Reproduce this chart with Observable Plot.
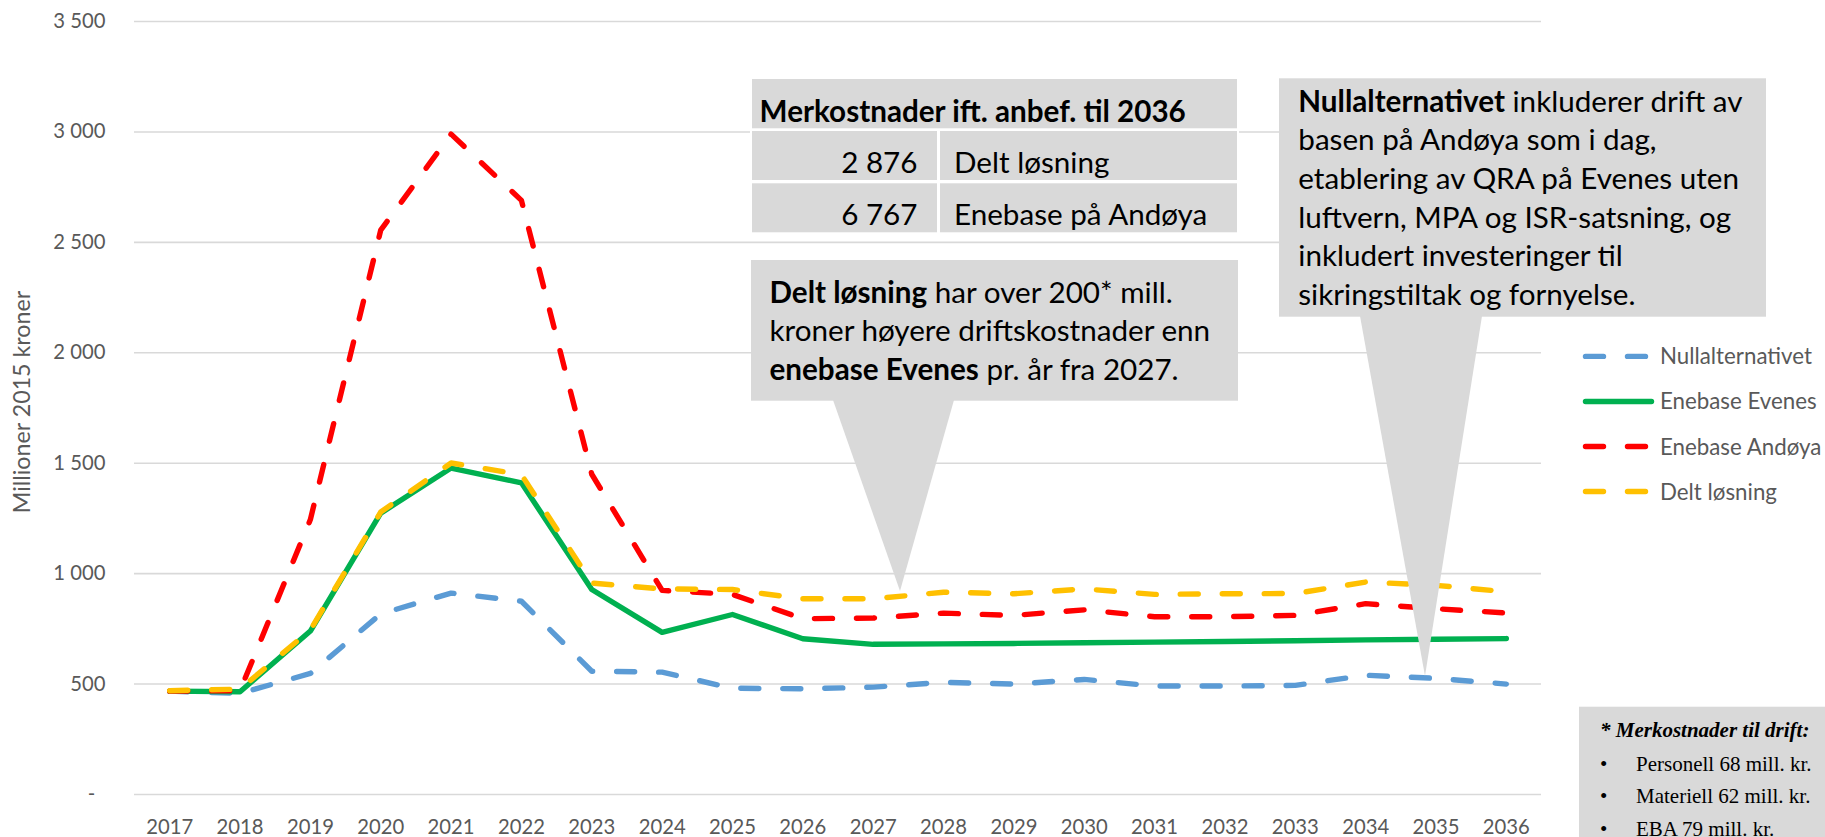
<!DOCTYPE html>
<html>
<head>
<meta charset="utf-8">
<script src="https://cdn.jsdelivr.net/npm/d3@7"></script>
<script src="https://cdn.jsdelivr.net/npm/@observablehq/plot@0.6"></script>
<style>
  html, body { margin: 0; padding: 0; background: #fff; }
  #chart svg { display: block; }
</style>
</head>
<body>
<div id="chart"></div>
<script>
// ---------------- DATA ----------------
const years = [2017, 2018, 2019, 2020, 2021, 2022, 2023, 2024, 2025, 2026,
               2027, 2028, 2029, 2030, 2031, 2032, 2033, 2034, 2035, 2036];
const seriesNames = ["Nullalternativet", "Enebase Evenes", "Enebase Andøya", "Delt løsning"];
const nullalternativet = [468, 458, 548, 818, 912, 875, 558, 554, 481, 479, 486, 508, 500, 521, 491, 491, 494, 540, 526, 500];
const enebaseEvenes    = [468, 465, 740, 1274, 1478, 1411, 928, 734, 815, 705, 680, 682, 684, 687, 690, 693, 696, 700, 703, 706];
const enebaseAndoya    = [468, 470, 1245, 2555, 2990, 2690, 1450, 924, 906, 796, 799, 821, 811, 836, 805, 805, 811, 864, 841, 822];
const deltLosning      = [470, 477, 745, 1279, 1501, 1448, 957, 931, 928, 886, 886, 916, 909, 931, 906, 909, 910, 962, 947, 918];
const yTicks = [0, 500, 1000, 1500, 2000, 2500, 3000, 3500];
const yTitle = "Millioner 2015 kroner";

const tableTitle = "Merkostnader ift. anbef. til 2036";
const tableNumbers = ["2 876", "6 767"];
const tableLabels = ["Delt løsning", "Enebase på Andøya"];

const callout1Lines = [
  [["Delt løsning", true], [" har over 200* mill.", false]],
  [["kroner høyere driftskostnader enn", false]],
  [["enebase Evenes", true], [" pr. år fra 2027.", false]]
];
const callout2Lines = [
  [["Nullalternativet", true], [" inkluderer drift av", false]],
  [["basen på Andøya som i dag,", false]],
  [["etablering av QRA på Evenes uten", false]],
  [["luftvern, MPA og ISR-satsning, og", false]],
  [["inkludert investeringer til", false]],
  [["sikringstiltak og fornyelse.", false]]
];
const footnoteTitle = "* Merkostnader til drift:";
const footnoteItems = ["Personell 68 mill. kr.", "Materiell 62 mill. kr.", "EBA 79 mill. kr."];

// ---------------- STYLE ----------------
const seriesColors = ["#5B9BD5", "#00B050", "#FF0000", "#FFC000"];
const seriesDash = ["18 24", null, "18 24", "18 24"];
const LINE_W = 5.4;
const FONT = "Lato, 'Open Sans', sans-serif";
const GREY_TEXT = "#595959";
const BOX = "#d9d9d9";

// font-size calibration so that text widths match the reference
const ctx = document.createElement("canvas").getContext("2d");
function fit(text, weight, target, fallback) {
  try {
    ctx.font = `${weight} 100px Lato`;
    const w = ctx.measureText(text).width;
    if (!w) return fallback;
    return 100 * target / w;
  } catch (e) { return fallback; }
}
const fsTick = fit("2017", "normal", 47, 22);
const fsLegend = fit("Nullalternativet", "normal", 152, 22);
const fsTitle = fit(yTitle, "normal", 223, 22);
const fsCallout = fit("kroner høyere driftskostnader enn", "normal", 442, 28);
const fsTable = fit(tableTitle, "bold", 427, 28);

const series = [nullalternativet, enebaseEvenes, enebaseAndoya, deltLosning];
const rows = seriesNames.flatMap((name, i) =>
  years.map((yr, j) => ({series: name, year: yr, value: series[i][j]})));

const W = 1825, H = 837;
const ML = 134, MR = 284, MT = 21, MB = 43;

const fmtY = d => d === 0 ? "-\u2002" : d3.format(",")(d).replace(/,/g, " ");

const lineMarks = seriesNames.map((name, i) =>
  Plot.line(rows.filter(r => r.series === name), {
    x: "year", y: "value",
    stroke: seriesColors[i], strokeWidth: LINE_W,
    strokeDasharray: seriesDash[i] || undefined,
    strokeLinecap: "round", strokeLinejoin: "round"
  }));

const chart = Plot.plot({
  width: W, height: H,
  marginLeft: ML, marginRight: MR, marginTop: MT, marginBottom: MB,
  style: {background: "#fff", fontFamily: FONT, fontSize: fsTick + "px", overflow: "visible"},
  x: {domain: [2016.5, 2036.5]},
  y: {domain: [0, 3500]},
  marks: [
    Plot.ruleY(yTicks, {stroke: "#d9d9d9", strokeWidth: 1.6}),
    Plot.axisY({ticks: yTicks, tickSize: 0, tickPadding: 29, tickFormat: fmtY, label: null, fill: GREY_TEXT, fontSize: fsTick}),
    Plot.axisX({ticks: years, tickSize: 0, tickPadding: 39 - 0.71 * fsTick, tickFormat: d => String(d), label: null, fill: GREY_TEXT, fontSize: fsTick}),
    Plot.text([yTitle], {frameAnchor: "left", textAnchor: "middle", rotate: -90, dx: -111.5, dy: -6, fill: GREY_TEXT, fontSize: fsTitle}),
    ...lineMarks
  ]
});
document.getElementById("chart").appendChild(chart);

// ---------------- ANNOTATIONS ----------------
const svg = d3.select(chart);
const ann = svg.append("g").attr("font-family", FONT).attr("text-anchor", "start");

function writeLines(g, lines, x, y0, step, fs) {
  lines.forEach((runs, k) => {
    const t = g.append("text").attr("x", x).attr("y", y0 + k * step)
      .attr("text-anchor", "start")
      .attr("font-size", fs).attr("fill", "#000");
    runs.forEach(([str, bold]) => {
      t.append("tspan").attr("font-weight", bold ? "bold" : "normal")
        .style("white-space", "pre").text(str);
    });
  });
}

// Table
const tx0 = 752, tx1 = 1237, tsplit = 938;
ann.append("rect").attr("x", tx0 - 2).attr("y", 77).attr("width", tx1 - tx0 + 4).attr("height", 158).attr("fill", "#fff");
ann.append("rect").attr("x", tx0).attr("y", 79).attr("width", tx1 - tx0).attr("height", 49.3).attr("fill", BOX);
[[131, 180], [183.3, 232.3]].forEach(([a, b]) => {
  ann.append("rect").attr("x", tx0).attr("y", a).attr("width", tsplit - tx0 - 1).attr("height", b - a).attr("fill", BOX);
  ann.append("rect").attr("x", tsplit + 2).attr("y", a).attr("width", tx1 - tsplit - 2).attr("height", b - a).attr("fill", BOX);
});
ann.append("text").attr("x", 759.6).attr("y", 121.7).attr("font-size", fsTable)
  .attr("text-anchor", "start")
  .attr("font-weight", "bold").attr("fill", "#000").text(tableTitle);
[173.3, 225].forEach((by, i) => {
  ann.append("text").attr("x", 917.5).attr("y", by).attr("text-anchor", "end")
    .attr("font-size", fsCallout).attr("fill", "#000").text(tableNumbers[i]);
  ann.append("text").attr("x", 954).attr("y", by).attr("text-anchor", "start")
    .attr("font-size", fsCallout).attr("fill", "#000").text(tableLabels[i]);
});

// Callout 1
ann.append("rect").attr("x", 751).attr("y", 260).attr("width", 487).attr("height", 140.7).attr("fill", BOX);
ann.append("polygon").attr("points", "833,400 954,400 900,591").attr("fill", BOX);
writeLines(ann, callout1Lines, 769.5, 302.5, 38.6, fsCallout);

// Callout 2
ann.append("rect").attr("x", 1279).attr("y", 78.3).attr("width", 487).attr("height", 238.4).attr("fill", BOX);
ann.append("polygon").attr("points", "1360,316 1482,316 1425,676").attr("fill", BOX);
writeLines(ann, callout2Lines, 1298.3, 111.5, 38.7, fsCallout);

// Legend
seriesNames.forEach((name, i) => {
  const ly = 356.4 + 45.05 * i;
  ann.append("path").attr("d", `M1585.5,${ly}H1651.5`)
    .attr("stroke", seriesColors[i]).attr("stroke-width", LINE_W)
    .attr("stroke-linecap", "round").attr("fill", "none")
    .attr("stroke-dasharray", seriesDash[i] || null);
  ann.append("text").attr("x", 1660).attr("y", ly).attr("dy", "0.36em")
    .attr("text-anchor", "start")
    .attr("font-size", fsLegend).attr("fill", GREY_TEXT).text(name);
});

// Footnote
const fn = ann.append("g").attr("font-family", "'Liberation Serif', 'Times New Roman', serif")
  .attr("font-size", 21).attr("fill", "#000").attr("text-anchor", "start");
fn.append("rect").attr("x", 1579).attr("y", 706.7).attr("width", 260).attr("height", 140).attr("fill", BOX);
fn.append("text").attr("x", 1600).attr("y", 737.3).attr("font-weight", "bold").attr("font-style", "italic").text(footnoteTitle);
footnoteItems.forEach((s, i) => {
  const by = 770.5 + 32.6 * i;
  fn.append("text").attr("x", 1600).attr("y", by).text("\u2022");
  fn.append("text").attr("x", 1636).attr("y", by).text(s);
});
</script>
</body>
</html>
